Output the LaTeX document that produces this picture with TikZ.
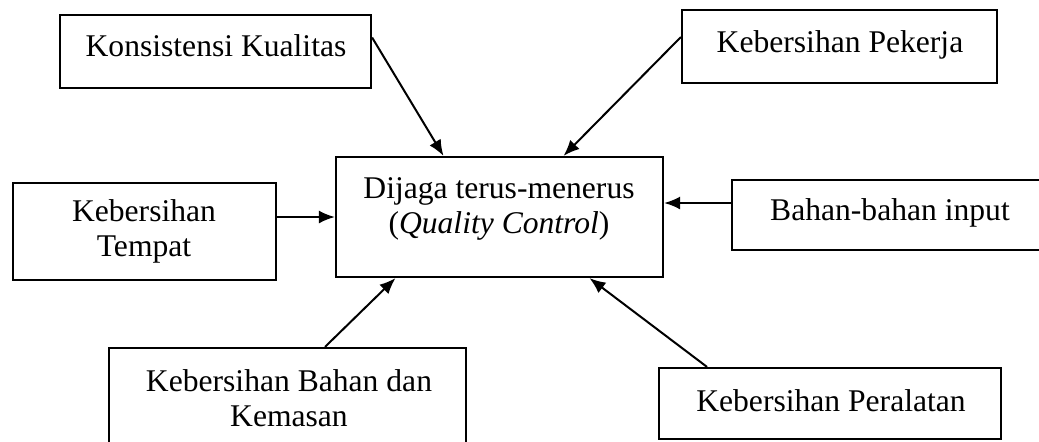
\documentclass[tikz,border=0pt]{standalone}
\usepackage{fontspec}
\setmainfont{Liberation Serif}
\usetikzlibrary{arrows.meta,fit}

\tikzset{
  kotak/.style={draw,line width=1.1pt,inner sep=0pt},
  teks/.style={align=center,inner sep=0pt,font=\fontsize{15.8}{17.5}\selectfont},
  panah/.style={line width=1pt,-{Latex[length=8pt,width=6.5pt]}}
}

\begin{document}
\begin{tikzpicture}[x=0.5pt,y=-0.5pt]
   \clip (0,0) rectangle (1039,441);
   % kotak-kotak
   \node[kotak,fit={(60,15) (371,88)}] (konsis) {};
   \node[kotak,fit={(682,10) (997,83)}] (pekerja) {};
   \node[kotak,fit={(336,157) (663,277)}] (qc) {};
   \node[kotak,fit={(13,183) (276,280)}] (tempat) {};
   \node[kotak,fit={(732,180) (1070,250)}] (input) {};
   \node[kotak,fit={(109,348) (466,480)}] (kemasan) {};
   \node[kotak,fit={(659,368) (1001,439)}] (alat) {};
   % teks
   \node[teks] (konsis-t) at (216,46) {Konsistensi Kualitas};
   \node[teks] (pekerja-t) at (840,45) {Kebersihan Pekerja};
   \node[teks] (qc-t) at (499,209) {Dijaga terus-menerus\\(\textit{Quality Control})};
   \node[teks] (tempat-t) at (144,231) {Kebersihan\\Tempat};
   \node[teks] (input-t) at (890,213) {Bahan-bahan input};
   \node[teks] (kemasan-t) at (289,398) {Kebersihan Bahan dan\\Kemasan};
   \node[teks] (alat-t) at (831,401) {Kebersihan Peralatan};
   % panah
   \coordinate (qc-in) at ([yshift=7pt]qc.east);
   \draw[panah] ([yshift=7pt]konsis.east) -- ([xshift=-28pt]qc.north);
   \draw[panah] ([yshift=4.75pt]pekerja.west) -- ([xshift=32pt]qc.north);
   \draw[panah] (tempat.east |- qc.west) -- (qc.west);
   \draw[panah] (input.west |- qc-in) -- (qc-in);
   \draw[panah] ([xshift=18.75pt]kemasan.north) -- ([xshift=-52pt]qc.south);
   \draw[panah] ([xshift=-61.5pt]alat.north) -- ([xshift=45pt]qc.south);
\end{tikzpicture}
\end{document}
